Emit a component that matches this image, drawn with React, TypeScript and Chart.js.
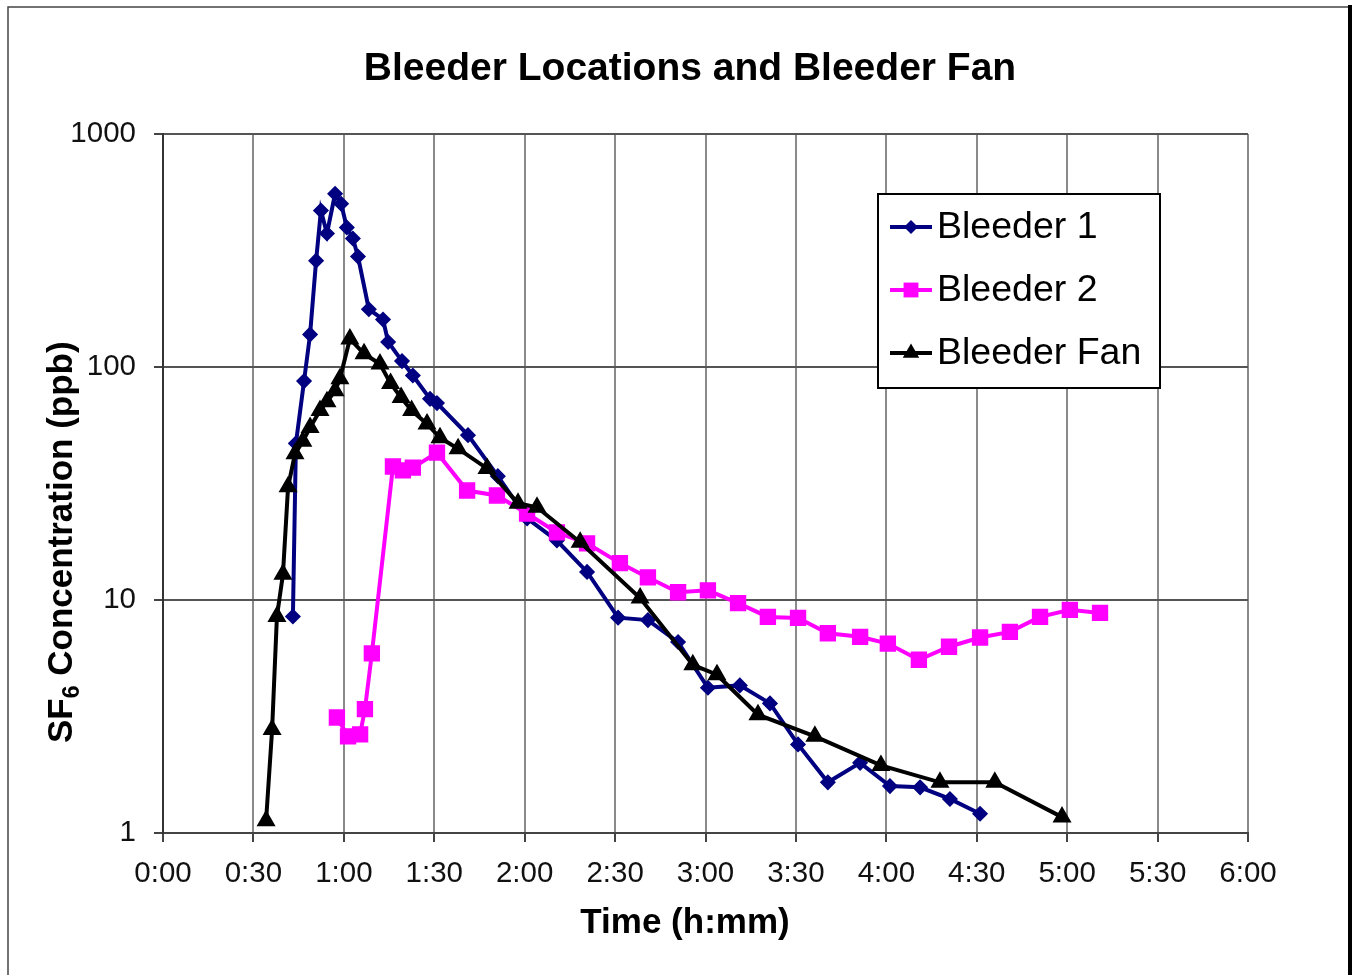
import React, { useEffect, useRef } from 'react';
import { Chart, registerables } from 'chart.js';

Chart.register(...registerables);

const chartTitle = 'Bleeder Locations and Bleeder Fan';
const xAxisTitle = 'Time (h:mm)';
const yAxisTitleMain = 'SF';
const yAxisTitleSub = '6';
const yAxisTitleRest = ' Concentration (ppb)';
const seriesNames = ['Bleeder 1', 'Bleeder 2', 'Bleeder Fan'];
const seriesColors = ['#000080', '#FF00FF', '#000000'];
const seriesMarkers = ['rectRot', 'rect', 'triangle'];
const seriesMarkerRadius = [7, 10.5, 9.5];

const xTickMinutes = [0, 30, 60, 90, 120, 150, 180, 210, 240, 270, 300, 330, 360];
const xTickLabels = ['0:00', '0:30', '1:00', '1:30', '2:00', '2:30', '3:00', '3:30', '4:00', '4:30', '5:00', '5:30', '6:00'];
const yTickValues = [1, 10, 100, 1000];

const bleeder1Minutes = [43.1, 44.1, 46.8, 48.8, 50.8, 52.4, 54.4, 57.1, 59.1, 61.0, 63.0, 64.7, 68.3, 73.0, 74.7, 79.3, 82.9, 88.6, 90.9, 101.2, 111.1, 120.8, 130.7, 140.7, 151.0, 160.9, 170.9, 180.8, 191.4, 201.4, 210.7, 220.6, 231.3, 241.2, 251.2, 261.1, 271.1];
const bleeder1Ppb = [8.5, 47, 87, 138, 286, 469, 374, 554, 502, 397, 356, 298, 177, 160, 128, 106, 92, 73, 70, 51, 34, 22.4, 18, 13.2, 8.4, 8.2, 6.6, 4.2, 4.3, 3.6, 2.4, 1.65, 2.0, 1.59, 1.57, 1.4, 1.21];

const bleeder2Minutes = [57.7, 61.4, 65.4, 67.0, 69.3, 76.3, 79.6, 82.9, 90.9, 100.9, 110.8, 120.8, 130.7, 140.7, 151.6, 160.9, 170.9, 180.8, 190.8, 200.7, 210.7, 220.6, 231.3, 240.5, 250.8, 260.8, 271.1, 281.0, 291.0, 300.9, 310.9];
const bleeder2Ppb = [3.13, 2.6, 2.65, 3.4, 5.9, 37.4, 36, 37, 42.9, 29.5, 28.1, 23.5, 19.5, 17.5, 14.4, 12.5, 10.8, 11.0, 9.7, 8.46, 8.38, 7.2, 6.95, 6.5, 5.54, 6.3, 6.9, 7.3, 8.46, 9.07, 8.8];

const fanMinutes = [34.2, 36.2, 37.8, 39.8, 41.5, 43.8, 46.4, 48.8, 52.1, 54.4, 57.1, 58.7, 62.0, 66.7, 72.0, 75.5, 79.0, 82.5, 87.6, 91.9, 97.9, 107.5, 117.8, 124.1, 138.4, 158.3, 175.8, 183.8, 197.4, 216.3, 238.2, 257.8, 276.0, 298.3];
const fanPpb = [1.13, 2.78, 8.5, 12.9, 30.6, 42.4, 48, 55, 65, 71, 79, 89, 132, 114, 103, 85, 74, 65, 57, 49.7, 44.6, 36.7, 26, 25, 17.7, 10.2, 5.27, 4.78, 3.22, 2.6, 1.95, 1.65, 1.65, 1.17];

const FONT = '"Liberation Sans", Arial, Helvetica, sans-serif';

function drawMarker(ctx: CanvasRenderingContext2D, style: string, x: number, y: number, r: number, color: string) {
  ctx.save();
  ctx.fillStyle = color;
  ctx.beginPath();
  if (style === 'rectRot') {
    ctx.moveTo(x - r, y);
    ctx.lineTo(x, y - r);
    ctx.lineTo(x + r, y);
    ctx.lineTo(x, y + r);
  } else if (style === 'rect') {
    const s = r * Math.SQRT1_2;
    ctx.rect(x - s, y - s, 2 * s, 2 * s);
  } else {
    ctx.moveTo(x, y - r);
    ctx.lineTo(x + 0.866 * r, y + 0.5 * r);
    ctx.lineTo(x - 0.866 * r, y + 0.5 * r);
  }
  ctx.closePath();
  ctx.fill();
  ctx.restore();
}

const decorPlugin = {
  id: 'decor',
  beforeDraw(chart: any) {
    const ctx = chart.ctx as CanvasRenderingContext2D;
    ctx.save();
    ctx.fillStyle = '#ffffff';
    ctx.fillRect(0, 0, chart.width, chart.height);
    ctx.restore();
  },
  afterDraw(chart: any) {
    const ctx = chart.ctx as CanvasRenderingContext2D;
    ctx.save();
    // outer frame
    ctx.strokeStyle = '#444';
    ctx.lineWidth = 1.5;
    ctx.beginPath();
    ctx.moveTo(8, chart.height);
    ctx.lineTo(8, 7);
    ctx.lineTo(1350, 7);
    ctx.stroke();
    ctx.strokeStyle = '#000';
    ctx.lineWidth = 4;
    ctx.beginPath();
    ctx.moveTo(1350, 5);
    ctx.lineTo(1350, chart.height);
    ctx.stroke();

    // chart title
    ctx.fillStyle = '#000';
    ctx.font = `bold 39px ${FONT}`;
    ctx.textAlign = 'center';
    ctx.textBaseline = 'alphabetic';
    ctx.fillText(chartTitle, 690, 80);

    // x axis title
    ctx.font = `bold 35px ${FONT}`;
    ctx.fillText(xAxisTitle, 685, 933);

    // y axis title (rotated, with subscript)
    ctx.save();
    ctx.translate(72, 743);
    ctx.rotate(-Math.PI / 2);
    ctx.textAlign = 'left';
    ctx.font = `bold 35px ${FONT}`;
    ctx.fillText(yAxisTitleMain, 0, 0);
    let w = ctx.measureText(yAxisTitleMain).width;
    ctx.font = `bold 23px ${FONT}`;
    ctx.fillText(yAxisTitleSub, w, 7);
    w += ctx.measureText(yAxisTitleSub).width;
    ctx.font = `bold 35px ${FONT}`;
    ctx.fillText(yAxisTitleRest, w, 0);
    ctx.restore();

    // legend
    const lx = 878, ly = 194, lw = 282, lh = 194;
    ctx.fillStyle = '#fff';
    ctx.fillRect(lx, ly, lw, lh);
    ctx.strokeStyle = '#000';
    ctx.lineWidth = 2;
    ctx.strokeRect(lx, ly, lw, lh);
    const rows = [227, 290, 353];
    ctx.font = `37.5px ${FONT}`;
    ctx.textAlign = 'left';
    ctx.textBaseline = 'middle';
    seriesNames.forEach((name, i) => {
      const y = rows[i];
      ctx.strokeStyle = seriesColors[i];
      ctx.lineWidth = 4;
      ctx.beginPath();
      ctx.moveTo(890, y);
      ctx.lineTo(932, y);
      ctx.stroke();
      drawMarker(ctx, seriesMarkers[i], 911, y, seriesMarkerRadius[i], seriesColors[i]);
      ctx.fillStyle = '#000';
      ctx.fillText(name, 937, y + 1);
    });
    ctx.restore();
  },
};

function makeDataset(i: number, minutes: number[], values: number[], order: number) {
  return {
    label: seriesNames[i],
    data: minutes.map((t, k) => ({ x: t, y: values[k] })),
    borderColor: seriesColors[i],
    backgroundColor: seriesColors[i],
    borderWidth: 4,
    pointStyle: seriesMarkers[i],
    pointRadius: seriesMarkerRadius[i],
    pointBorderWidth: 1.5,
    pointBorderColor: seriesColors[i],
    pointBackgroundColor: seriesColors[i],
    tension: 0,
    fill: false,
    order,
  };
}

export default function App() {
  const canvasRef = useRef<HTMLCanvasElement | null>(null);

  useEffect(() => {
    if (!canvasRef.current) return;
    const tickFont = { family: FONT, size: 29.5 };
    const chart = new Chart(canvasRef.current, {
      type: 'line',
      data: {
        datasets: [
          makeDataset(0, bleeder1Minutes, bleeder1Ppb, 2),
          makeDataset(1, bleeder2Minutes, bleeder2Ppb, 1),
          makeDataset(2, fanMinutes, fanPpb, 0),
        ] as any,
      },
      options: {
        responsive: false,
        animation: false,
        devicePixelRatio: 1,
        layout: { padding: { top: 134, right: 109, bottom: 0, left: 0 } },
        plugins: {
          legend: { display: false },
          title: { display: false },
          tooltip: { enabled: false },
        },
        scales: {
          x: {
            type: 'linear',
            min: 0,
            max: 360,
            afterBuildTicks: (axis: any) => {
              axis.ticks = xTickMinutes.map((v) => ({ value: v }));
            },
            afterFit: (axis: any) => {
              axis.height = 142;
            },
            ticks: {
              autoSkip: false,
              maxRotation: 0,
              font: tickFont,
              color: '#111',
              padding: 14,
              callback: (_v: any, index: number) => xTickLabels[index],
            },
            grid: { color: '#8a8a8a', lineWidth: 2, drawTicks: true, tickLength: 9, tickColor: '#444' },
            border: { color: '#444', width: 2 },
          },
          y: {
            type: 'logarithmic',
            min: 1,
            max: 1000,
            afterBuildTicks: (axis: any) => {
              axis.ticks = yTickValues.map((v) => ({ value: v }));
            },
            afterFit: (axis: any) => {
              axis.width = 163;
            },
            ticks: {
              font: tickFont,
              color: '#111',
              padding: 18,
              callback: (v: any) => String(v),
            },
            grid: { color: '#555', lineWidth: 2, drawTicks: true, tickLength: 9, tickColor: '#444' },
            border: { color: '#333', width: 2 },
          },
        },
      } as any,
      plugins: [decorPlugin],
    });
    return () => chart.destroy();
  }, []);

  return (
    <div style={{ position: 'absolute', left: 0, top: 0, width: 1357, height: 975, background: '#fff' }}>
      <canvas ref={canvasRef} width={1357} height={975} style={{ display: 'block' }} />
    </div>
  );
}
